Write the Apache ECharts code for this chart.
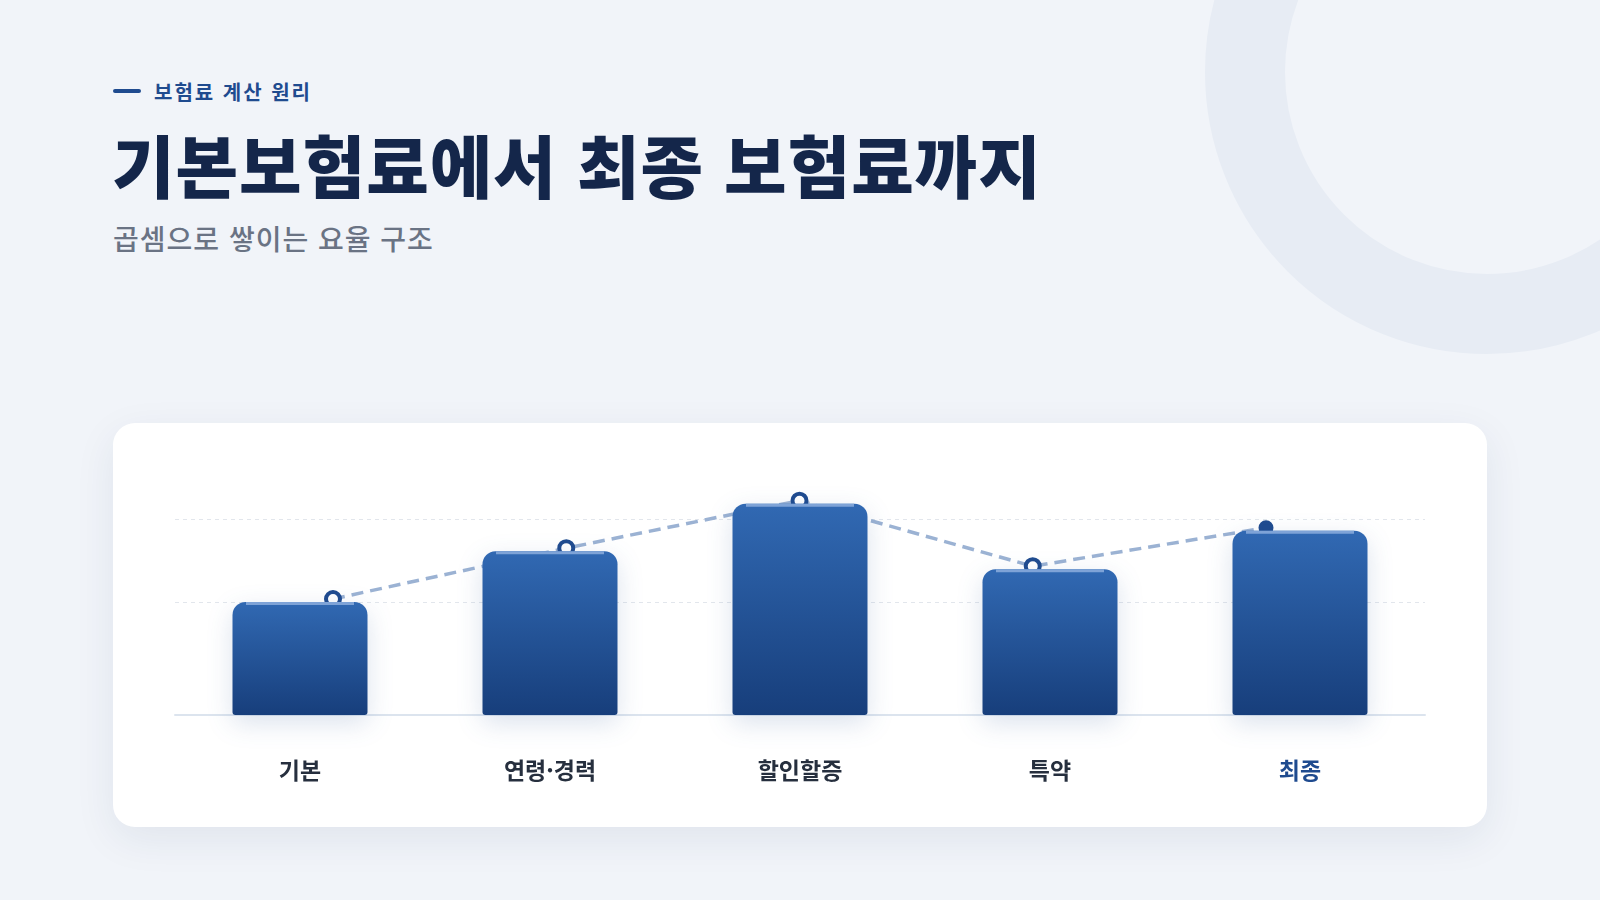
<!DOCTYPE html>
<html lang="ko">
<head>
<meta charset="utf-8">
<script src="https://cdn.jsdelivr.net/npm/echarts@6/dist/echarts.min.js"></script>
<style>
  html, body { margin: 0; padding: 0; }
  body {
    width: 1600px; height: 900px; overflow: hidden; position: relative;
    background: #f1f4f9;
    font-family: 'Noto Sans CJK KR', 'Noto Sans', sans-serif;
  }
  .ring {
    position: absolute; left: 1205px; top: -210px;
    width: 564px; height: 564px; box-sizing: border-box;
    border-radius: 50%; border: 80px solid #e7ecf4;
  }
  .eyebrow {
    position: absolute; left: 113px; top: 76px; height: 30px;
    display: flex; align-items: center;
    color: #1f4b8f; font-size: 20px; font-weight: 700; letter-spacing: 2px;
  }
  .eyebrow i {
    display: inline-block; width: 28px; height: 4px; border-radius: 2px;
    background: #1f4b8f; margin-right: 13px;
  }
  .title {
    position: absolute; left: 112px; top: 128px;
    font-size: 68px; line-height: 72px; font-weight: 900;
    color: #14264a; letter-spacing: 1px; white-space: nowrap;
  }
  .subtitle {
    position: absolute; left: 113px; top: 220px;
    font-size: 28px; line-height: 36px; font-weight: 500;
    color: #6a7384; letter-spacing: 1px; white-space: nowrap;
  }
  .card {
    position: absolute; left: 113px; top: 423px; width: 1374px; height: 404px;
    background: #fff; border-radius: 22px;
    box-shadow: 0 12px 40px rgba(25, 45, 85, 0.08);
  }
  #chart { position: absolute; left: 0; top: 0; width: 1600px; height: 900px; }
</style>
</head>
<body>
<div class="ring"></div>
<div class="eyebrow"><i></i>보험료 계산 원리</div>
<div class="title">기본보험료에서 최종 보험료까지</div>
<div class="subtitle">곱셈으로 쌓이는 요율 구조</div>
<div class="card"></div>
<div id="chart"></div>
<script>
/* ================= 데이터 ================= */
const categories = ['기본', '연령·경력', '할인할증', '특약', '최종'];
const barValues  = [100, 145, 187, 129, 163];   // 보험료 지수 (기본 = 100)
const lineValues = [100, 145, 187, 129, 163];
const guideValues = [100, 173];                 // 점선 기준선

/* ================= 초기화 ================= */
const chart = echarts.init(document.getElementById('chart'));

const labelColor = (i) => i === categories.length - 1 ? '#1f4b8f' : '#262f3e';

chart.setOption({
  backgroundColor: 'transparent',
  animation: false,

  grid: [
    { left: 175, right: 175, top: 489, bottom: 185 },   // 막대
    { left: 333, right: 334, top: 486, bottom: 188 }    // 추이선
  ],

  xAxis: [{
    type: 'category',
    gridIndex: 0,
    data: categories.map((c, i) => ({ value: c, textStyle: { color: labelColor(i) } })),
    axisTick: { show: false },
    axisLine: { lineStyle: { color: '#dce4ee', width: 2 } },
    axisLabel: {
      margin: 44,
      fontSize: 23,
      fontWeight: 'bold',
      fontFamily: 'Noto Sans CJK KR'
    }
  }, {
    type: 'category',
    gridIndex: 1,
    data: categories,
    boundaryGap: false,
    show: false
  }],

  yAxis: [{
    type: 'value', gridIndex: 0, min: 0, max: 200,
    show: false, splitLine: { show: false }
  }, {
    type: 'value', gridIndex: 1, min: 0, max: 200,
    show: false, splitLine: { show: false }
  }],

  series: [{
    name: '보험료',
    type: 'bar',
    xAxisIndex: 0, yAxisIndex: 0,
    data: barValues,
    barWidth: 135,
    z: 2,
    itemStyle: {
      borderRadius: [13, 13, 3, 3],
      color: new echarts.graphic.LinearGradient(0, 0, 0, 1, [
        { offset: 0, color: '#3169b3' },
        { offset: 1, color: '#173e7b' }
      ]),
      shadowBlur: 26,
      shadowOffsetY: 8,
      shadowColor: 'rgba(31, 75, 143, 0.16)'
    },
    markLine: {
      silent: true,
      symbol: 'none',
      z: 1,
      label: { show: false },
      lineStyle: { color: '#e2e6ec', width: 1, type: [4, 4] },
      data: guideValues.map(v => ({ yAxis: v }))
    }
  }, {
    // 막대 윗면 하이라이트
    type: 'pictorialBar',
    xAxisIndex: 0, yAxisIndex: 0,
    data: barValues,
    symbol: 'rect',
    symbolSize: [108, 3],
    symbolPosition: 'end',
    barWidth: 135,
    barGap: '-100%',
    silent: true,
    z: 3,
    itemStyle: { color: '#7ea3d7' }
  }, {
    name: '추이',
    type: 'line',
    xAxisIndex: 1, yAxisIndex: 1,
    data: lineValues.map((v, i) => i === lineValues.length - 1
      ? { value: v, symbolSize: 11, itemStyle: { color: '#1f4b8f' } }
      : v),
    z: 1,
    symbol: 'circle',
    symbolSize: 14,
    lineStyle: { color: '#9bb2d3', width: 3.5, type: [12, 7] },
    itemStyle: { color: '#ffffff', borderColor: '#1f4b8f', borderWidth: 4 }
  }]
});
</script>
</body>
</html>
